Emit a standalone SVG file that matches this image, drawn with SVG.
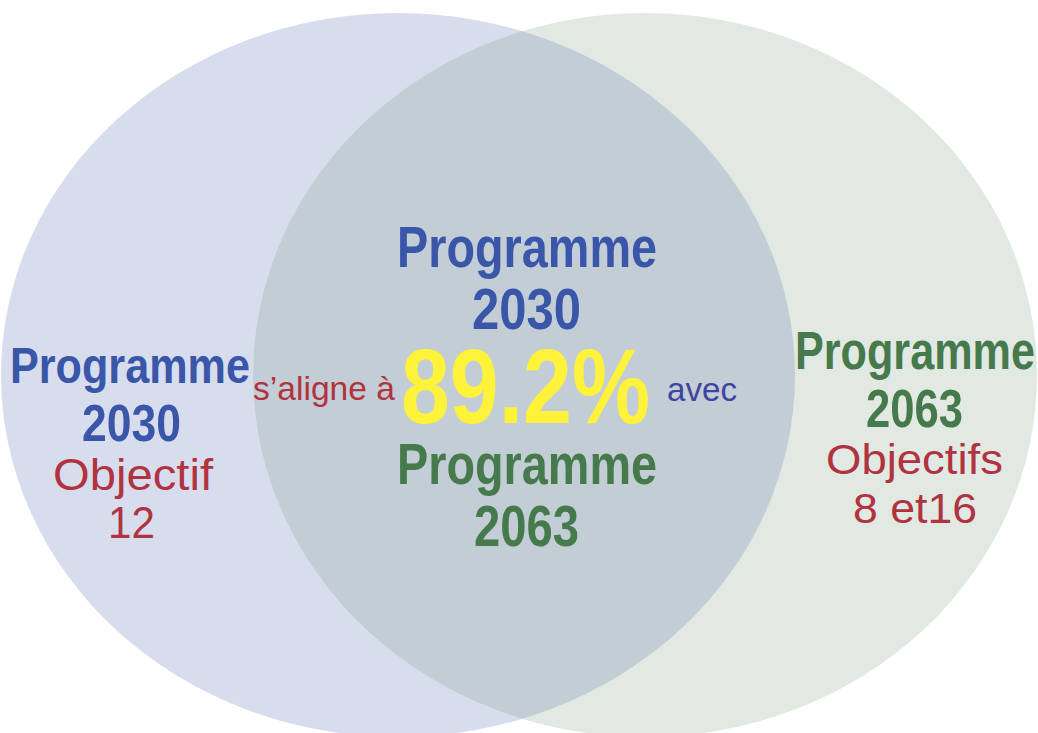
<svg xmlns="http://www.w3.org/2000/svg" width="1038" height="733" viewBox="0 0 1038 733">
<style>
.b{font-family:"Liberation Sans",Arial,sans-serif;font-weight:bold;text-anchor:middle}
.r{font-family:"Liberation Sans",Arial,sans-serif;font-weight:normal}
.blue{fill:#3a56a8}
.green{fill:#467a4d}
.red{fill:#b0333f}
.yel{fill:#fff23a}
.avec{fill:#3f44a0}
</style>
<defs>
<clipPath id="clipL"><ellipse cx="398" cy="375" rx="397" ry="362"/></clipPath>
</defs>
<rect width="1038" height="733" fill="#ffffff"/>
<g id="circles">
<ellipse id="left-set" cx="398" cy="375" rx="397" ry="362" fill="#d8ddee"/>
<ellipse id="right-set" cx="645" cy="375" rx="392" ry="362" fill="#e2e9e3"/>
<ellipse id="overlap" cx="645" cy="375" rx="392" ry="362" fill="#c3cdd6" clip-path="url(#clipL)"/>
</g>
<g id="left-label">
<text class="b blue" x="130" y="383" font-size="50" textLength="240" lengthAdjust="spacingAndGlyphs">Programme</text>
<text class="b blue" x="131.5" y="441" font-size="52" textLength="99" lengthAdjust="spacingAndGlyphs">2030</text>
<text class="r red" x="133" y="490" font-size="44" text-anchor="middle" textLength="160" lengthAdjust="spacingAndGlyphs">Objectif</text>
<text class="r red" x="131.5" y="538" font-size="44" text-anchor="middle" textLength="47" lengthAdjust="spacingAndGlyphs">12</text>
</g>
<g id="center-label">
<text class="b blue" x="527" y="267" font-size="58" textLength="260" lengthAdjust="spacingAndGlyphs">Programme</text>
<text class="b blue" x="526.5" y="329" font-size="57" textLength="109" lengthAdjust="spacingAndGlyphs">2030</text>
<text class="r red" x="253" y="400" font-size="34" textLength="142" lengthAdjust="spacingAndGlyphs">s’aligne à</text>
<text class="b yel" x="525.5" y="423" font-size="106" textLength="249" lengthAdjust="spacingAndGlyphs">89.2%</text>
<text class="r avec" x="667" y="401" font-size="33" textLength="70" lengthAdjust="spacingAndGlyphs">avec</text>
<text class="b green" x="527" y="484" font-size="58" textLength="260" lengthAdjust="spacingAndGlyphs">Programme</text>
<text class="b green" x="526.5" y="546" font-size="57" textLength="105" lengthAdjust="spacingAndGlyphs">2063</text>
</g>
<g id="right-label">
<text class="b green" x="915" y="369" font-size="53" textLength="240" lengthAdjust="spacingAndGlyphs">Programme</text>
<text class="b green" x="914.5" y="427" font-size="54" textLength="97" lengthAdjust="spacingAndGlyphs">2063</text>
<text class="r red" x="914.5" y="474" font-size="43" text-anchor="middle" textLength="177" lengthAdjust="spacingAndGlyphs">Objectifs</text>
<text class="r red" x="915" y="523" font-size="43" text-anchor="middle" textLength="124" lengthAdjust="spacingAndGlyphs">8 et16</text>
</g>
</svg>
